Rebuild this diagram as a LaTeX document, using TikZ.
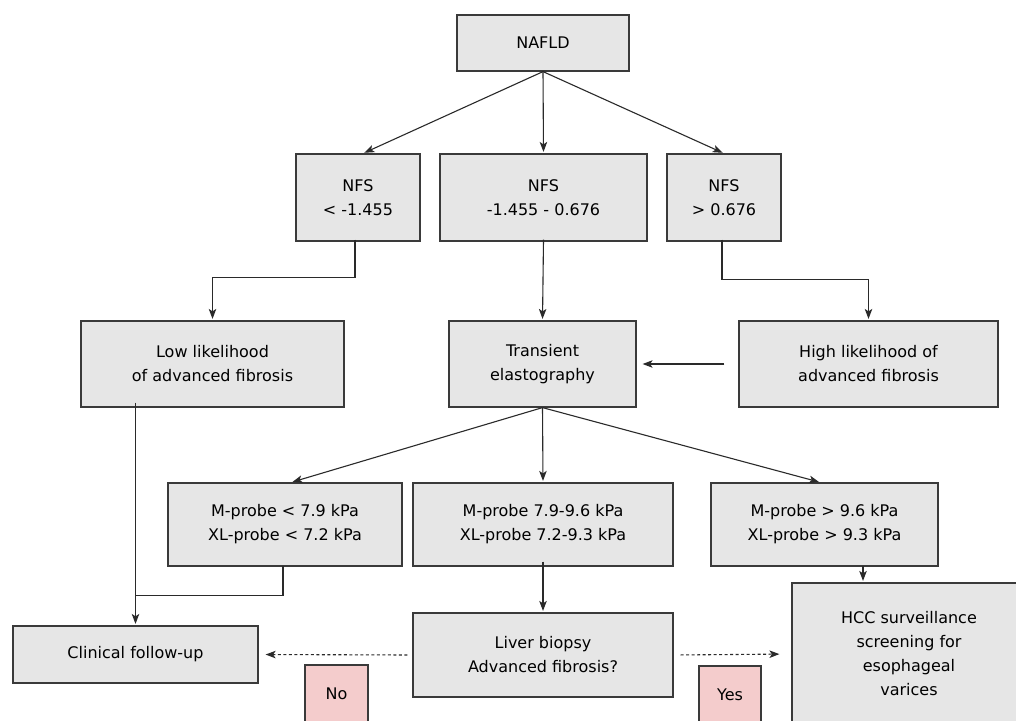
\documentclass[tikz,border=0pt]{standalone}
\usepackage{fontspec}
\setmainfont{DejaVu Sans}
\usetikzlibrary{arrows.meta,calc}
\definecolor{boxfill}{HTML}{E6E6E6}
\definecolor{boxline}{HTML}{3A3A3A}
\definecolor{pinkfill}{HTML}{F4CCCC}
\definecolor{lineclr}{HTML}{2A2A2A}
\begin{document}
\begin{tikzpicture}[x=1pt,y=-1pt,
  box/.style={draw=boxline,fill=boxfill,line width=1.2pt,align=center,inner sep=0pt,
    font=\fontsize{16}{24}\selectfont},
  tag/.style={box,fill=pinkfill},
  arr/.style={draw=lineclr,line width=1.1pt,shorten >=1.5pt,-{Stealth[length=10pt,width=7.5pt,inset=2.5pt]}},
  plain/.style={draw=lineclr,line width=1.1pt},
  dotarr/.style={arr,dash pattern=on 3pt off 2.5pt}]
\useasboundingbox (0,0) rectangle (1016,720);
\clip (0,0) rectangle (1016,720);
\fill[white] (0,0) rectangle (1016,720);

% nodes
\node[box,minimum width=172pt,minimum height=56pt] (nafld) at (543,43) {NAFLD};
\node[box,minimum width=124pt,minimum height=87pt] (nfsl) at (358,197.5) {NFS\\< -1.455};
\node[box,minimum width=207pt,minimum height=87pt] (nfsm) at (543.5,197.5) {NFS\\-1.455 - 0.676};
\node[box,minimum width=114pt,minimum height=87pt] (nfsr) at (724,197.5) {NFS\\> 0.676};

\node[box,minimum width=263pt,minimum height=86pt] (low) at (212.5,364) {Low likelihood\\of advanced fibrosis};
\node[box,minimum width=187pt,minimum height=86pt] (trans) at (542.5,364) {Transient\\elastography};
\node[box,minimum width=259pt,minimum height=86pt] (high) at (868.5,364) {High likelihood of\\advanced fibrosis};

\node[box,minimum width=234pt,minimum height=83pt] (mpl) at (285,524.5) {M-probe < 7.9 kPa\\XL-probe < 7.2 kPa};
\node[box,minimum width=260pt,minimum height=83pt] (mpm) at (543,524.5) {M-probe 7.9-9.6 kPa\\XL-probe 7.2-9.3 kPa};
\node[box,minimum width=227pt,minimum height=83pt] (mpr) at (824.5,524.5) {M-probe > 9.6 kPa\\XL-probe > 9.3 kPa};

\node[box,minimum width=245pt,minimum height=57pt] (clin) at (135.5,654.5) {Clinical follow-up};
\node[box,minimum width=260pt,minimum height=84pt] (liver) at (543,655) {Liver biopsy\\Advanced fibrosis?};
\node[box,minimum width=234pt,minimum height=142pt] (hcc) at (909,654) {HCC surveillance\\screening for\\esophageal\\varices};

\node[tag,minimum width=63pt,minimum height=58pt] (no) at (336.5,694) {No};
\node[tag,minimum width=62pt,minimum height=58pt] (yes) at (730,695) {Yes};

% connectors
\draw[arr] (nafld.south) -- ([xshift=5pt]nfsl.north);
\draw[arr] (nafld.south) -- (nfsm.north);
\draw[arr] (nafld.south) -- (nfsr.north);

\draw[arr] ([xshift=-3pt,yshift=2pt]nfsl.south) -- ++(0,38) -| (low.north);
\draw[arr] ([yshift=2pt]nfsm.south) -- (trans.north);
\draw[arr] ([xshift=-2pt,yshift=2pt]nfsr.south) -- ++(0,40) -| (high.north);
\draw[arr,shorten <=14pt,shorten >=6pt] (high.west) -- (trans.east);

\draw[arr] (trans.south) -- ([xshift=6pt]mpl.north);
\draw[arr] (trans.south) -- (mpm.north);
\draw[arr] (trans.south) -- ([xshift=-4pt]mpr.north);

\coordinate (join) at ($(clin.north)+(0,-30)$);
\draw[arr] ([yshift=5pt]low.south -| clin.north) -- (clin.north);
\draw[plain] ([xshift=-2pt,yshift=1pt]mpl.south) |- (join);

\draw[arr] ([yshift=5pt]mpm.south) -- (liver.north);
\draw[arr] ([xshift=38.5pt,yshift=1pt]mpr.south) -- ([xshift=38.5pt]mpr.south |- hcc.north);

\draw[dotarr,shorten <=5pt,shorten >=7pt] (liver.west) -- (clin.east);
\draw[dotarr,shorten <=7pt,shorten >=12pt] (liver.east) -- (hcc.west);
\end{tikzpicture}
\end{document}
